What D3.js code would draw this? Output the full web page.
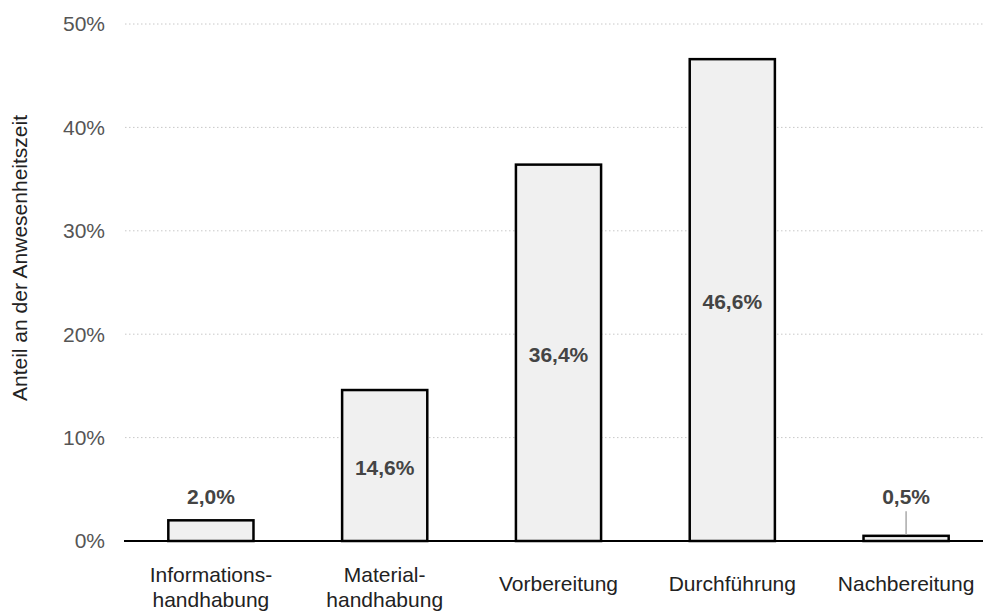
<!DOCTYPE html>
<html><head><meta charset="utf-8">
<script src="https://cdn.jsdelivr.net/npm/d3@7"></script>
<style>body{margin:0;background:#fff}svg{display:block}</style>
</head><body><svg id="c" width="983" height="612"></svg>
<script>
const categories = ["Informations-\nhandhabung","Material-\nhandhabung","Vorbereitung","Durchführung","Nachbereitung"];
const values = [2.0, 14.6, 36.4, 46.6, 0.5];
const valueLabels = ["2,0%","14,6%","36,4%","46,6%","0,5%"];
const yTicks = [0,10,20,30,40,50];
const yTitle = "Anteil an der Anwesenheitszeit";

const svg = d3.select("#c");
const font = "Liberation Sans, Arial, sans-serif";
const fs = 21;
const x = d3.scaleBand().domain(categories).range([124, 993]).paddingInner(0.51).paddingOuter(0.255);
const y = d3.scaleLinear().domain([0,50]).range([541, 24]);

// grid
svg.append("g").selectAll("line").data(yTicks.filter(d=>d>0)).join("line")
  .attr("x1",125).attr("x2",983).attr("y1",d=>y(d)).attr("y2",d=>y(d))
  .attr("stroke","#c8c8c8").attr("stroke-width",1).attr("stroke-dasharray","1.5,2.5");
// y tick labels
svg.append("g").selectAll("text").data(yTicks).join("text")
  .attr("x",105).attr("y",d=>y(d)).attr("dy","0.35em").attr("text-anchor","end")
  .attr("font-family",font).attr("font-size",fs).attr("fill","#555")
  .text(d=>d+"%");
// y title
svg.append("text").attr("transform","translate(27,258) rotate(-90)")
  .attr("text-anchor","middle").attr("font-family",font).attr("font-size",fs).attr("fill","#222")
  .text(yTitle);
// bars
svg.append("g").selectAll("rect").data(values).join("rect")
  .attr("x",(d,i)=>x(categories[i])).attr("width",x.bandwidth())
  .attr("y",d=>y(d)).attr("height",d=>y(0)-y(d))
  .attr("fill","#f0f0f0").attr("stroke","#000").attr("stroke-width",2.5);
// axis line
svg.append("line").attr("x1",124).attr("x2",983).attr("y1",y(0)).attr("y2",y(0))
  .attr("stroke","#000").attr("stroke-width",2);
// value labels
values.forEach((v,i)=>{
  const cx = x(categories[i]) + x.bandwidth()/2;
  const inside = v > 10;
  const ly = inside ? (y(v)+y(0))/2 + 2 : y(2.0) - 24;
  svg.append("text").attr("x",cx).attr("y",ly).attr("dy","0.35em").attr("text-anchor","middle")
    .attr("font-family",font).attr("font-size",fs).attr("font-weight","bold").attr("fill","#444")
    .text(valueLabels[i]);
  if (!inside && y(0)-y(v) < 10) {
    svg.append("line").attr("x1",cx).attr("x2",cx).attr("y1",ly+15).attr("y2",y(v)-1)
      .attr("stroke","#aaa").attr("stroke-width",1.5);
  }
});
// x labels
categories.forEach(c=>{
  const lines = c.split("\n");
  const cx = x(c) + x.bandwidth()/2;
  const t = svg.append("text").attr("text-anchor","middle").attr("font-family",font)
    .attr("font-size",fs).attr("fill","#222");
  if (lines.length === 1) {
    t.append("tspan").attr("x",cx).attr("y",591).text(lines[0]);
  } else {
    lines.forEach((l,k)=>t.append("tspan").attr("x",cx).attr("y",582+k*25).text(l));
  }
});
</script></body></html>
